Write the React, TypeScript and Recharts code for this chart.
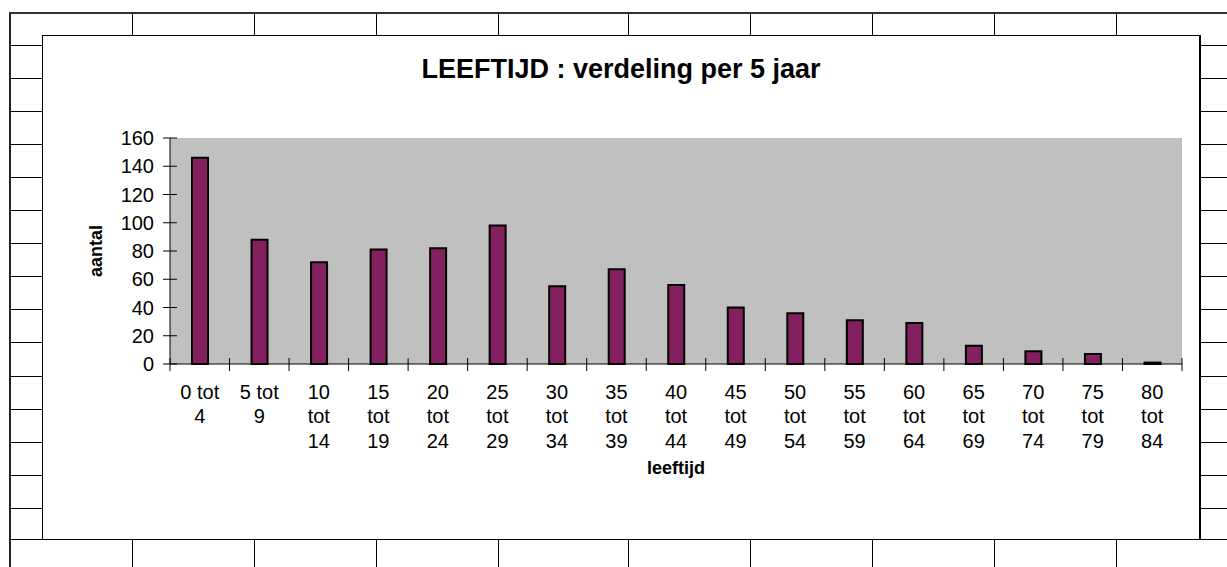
import { Bar, BarChart, CartesianGrid, XAxis, YAxis } from 'recharts';

const categories = [
  '0 tot 4', '5 tot 9', '10 tot 14', '15 tot 19', '20 tot 24', '25 tot 29',
  '30 tot 34', '35 tot 39', '40 tot 44', '45 tot 49', '50 tot 54', '55 tot 59',
  '60 tot 64', '65 tot 69', '70 tot 74', '75 tot 79', '80 tot 84',
];
const counts = [146, 88, 72, 81, 82, 98, 55, 67, 56, 40, 36, 31, 29, 13, 9, 7, 1];
const yTicks = [0, 20, 40, 60, 80, 100, 120, 140, 160];

// spreadsheet cells visible around the embedded chart
const sheetCols = [132, 254, 376, 498, 628, 750, 872, 994, 1116];
const sheetRows = [45, 78, 111, 144, 177, 210, 243, 276, 309, 342, 376, 409, 442, 475, 508];

const data = categories.map((c, i) => ({ leeftijd: c, aantal: counts[i] }));

const FONT = '"Liberation Sans", Arial, sans-serif';
const CHART_W = 1156;
const CHART_H = 503;
const MARGIN = { top: 102, right: 17, bottom: 45, left: 47 };
const Y_W = 80;
const PLOT_W = CHART_W - MARGIN.left - Y_W - MARGIN.right;
const BAND = PLOT_W / categories.length;

function wrapLabel(label: string) {
  const lines: string[] = [];
  let cur = '';
  for (const w of label.split(' ')) {
    const cand = cur ? cur + ' ' + w : w;
    if (cand.length <= 5) cur = cand;
    else {
      lines.push(cur);
      cur = w;
    }
  }
  lines.push(cur);
  return lines;
}

function XTick(props: any) {
  const { x, y, payload, index } = props;
  const lines = wrapLabel(String(payload.value));
  const half = BAND / 2;
  return (
    <g>
      <line x1={x - half} x2={x - half} y1={y - 6} y2={y + 7} stroke="#000" />
      {index === categories.length - 1 && (
        <line x1={x + half} x2={x + half} y1={y - 6} y2={y + 7} stroke="#000" />
      )}
      {lines.map((l, i) => (
        <text key={i} x={x} y={y + 35 + i * 24.3} textAnchor="middle" fontSize={20} fontFamily={FONT} fill="#000">
          {l}
        </text>
      ))}
    </g>
  );
}

function YTick(props: any) {
  const { x, y, payload } = props;
  return (
    <g>
      <line x1={x - 7} x2={x + 7} y1={y} y2={y} stroke="#000" />
      <text x={x - 16} y={y} dy="0.36em" textAnchor="end" fontSize={20} fontFamily={FONT} fill="#000">
        {payload.value}
      </text>
    </g>
  );
}

function Sheet() {
  const line = '#000';
  return (
    <>
      <div style={{ position: 'absolute', left: 9, top: 12, width: 2, height: 555, background: '#222' }} />
      <div style={{ position: 'absolute', left: 9, top: 12, width: 1218, height: 2, background: '#333' }} />
      {sheetCols.map((x) => (
        <div key={'t' + x} style={{ position: 'absolute', left: x, top: 14, width: 1, height: 21, background: line }} />
      ))}
      {sheetCols.map((x) => (
        <div key={'b' + x} style={{ position: 'absolute', left: x, top: 540, width: 1, height: 27, background: line }} />
      ))}
      {sheetRows.map((y) => (
        <div key={'l' + y} style={{ position: 'absolute', left: 11, top: y, width: 31, height: 1, background: line }} />
      ))}
      {sheetRows.map((y) => (
        <div key={'r' + y} style={{ position: 'absolute', left: 1201, top: y, width: 26, height: 1, background: line }} />
      ))}
      <div style={{ position: 'absolute', left: 11, top: 539, width: 1216, height: 1, background: line }} />
    </>
  );
}

export default function App() {
  return (
    <div style={{ position: 'absolute', left: 0, top: 0, width: 1227, height: 567, background: '#fff', overflow: 'hidden', fontFamily: FONT }}>
      <Sheet />
      <div
        style={{
          position: 'absolute', left: 42, top: 35, width: 1159, height: 505,
          boxSizing: 'border-box', border: '1px solid #000', borderRightWidth: 2, background: '#fff',
        }}
      >
        <div
          style={{
            position: 'absolute', left: 0, top: 18, width: '100%', textAlign: 'center',
            fontSize: 27, fontWeight: 'bold', color: '#000',
          }}
        >
          LEEFTIJD : verdeling per 5 jaar
        </div>
        <BarChart width={CHART_W} height={CHART_H} data={data} margin={MARGIN}>
          <CartesianGrid fill="#C0C0C0" horizontal={false} vertical={false} />
          <XAxis
            dataKey="leeftijd"
            interval={0}
            height={130}
            stroke="#000"
            tickSize={0}
            tickMargin={0}
            tickLine={false}
            tick={<XTick />}
            label={{ value: 'leeftijd', position: 'insideBottom', offset: 20, fontSize: 18, fontWeight: 'bold', fill: '#000', fontFamily: FONT }}
          />
          <XAxis xAxisId="top" orientation="top" height={0} tick={false} tickLine={false} axisLine={{ stroke: '#808080' }} />
          <YAxis
            domain={[0, 160]}
            ticks={yTicks}
            width={Y_W}
            stroke="#000"
            tickSize={0}
            tickMargin={0}
            tickLine={false}
            tick={<YTick />}
            label={{
              value: 'aantal', angle: -90, position: 'insideLeft', offset: 6,
              fontSize: 18, fontWeight: 'bold', fill: '#000', fontFamily: FONT, style: { textAnchor: 'middle' },
            }}
          />
          <YAxis yAxisId="right" orientation="right" width={0} tick={false} tickLine={false} axisLine={{ stroke: '#808080' }} />
          <Bar dataKey="aantal" fill="#84205F" stroke="#000" strokeWidth={2} barSize={16} isAnimationActive={false} />
        </BarChart>
      </div>
    </div>
  );
}
